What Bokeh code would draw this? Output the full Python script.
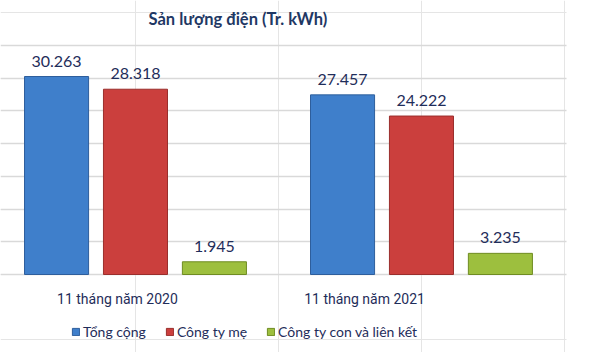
from bokeh.plotting import figure
from bokeh.models import (ColumnDataSource, FixedTicker, LabelSet, Legend, LegendItem,
                          Grid, Label, BoxAnnotation)
from bokeh.core.properties import value
from bokeh.embed import file_html
from bokeh.resources import INLINE

# ---- data ----
periods = ["11 tháng năm 2020", "11 tháng năm 2021"]
series = ["Tổng cộng", "Công ty mẹ", "Công ty con và liên kết"]
tong_cong = [30.263, 27.457]
cong_ty_me = [28.318, 24.222]
cong_ty_con = [1.945, 3.235]
values = [tong_cong, cong_ty_me, cong_ty_con]
grid_ticks = [0, 5, 10, 15, 20, 25, 30, 35]

# ---- style ----
colors = ["#3F7FCB", "#CB3F3D", "#9DBF3E"]
edge_colors = ["#2E5E9C", "#9A2E2C", "#6F8C22"]
FONT = "Lato"
CAT_FONT = "Roboto"
TXT = "#1F2D5A"
offsets = [-0.276, 0.0, 0.276]
bar_width = 0.224
label_shift = [-0.063, -0.199]

p = figure(width=606, height=352, output_backend="svg", toolbar_location=None,
           x_range=(-0.472, 1.647), y_range=(-11.92, 41.88),
           x_axis_location=None, y_axis_location=None,
           min_border=0, min_border_left=0, min_border_right=0,
           min_border_top=0, min_border_bottom=0)
p.outline_line_color = None
p.background_fill_color = "white"
p.border_fill_color = "white"

grid = Grid(dimension=1, ticker=FixedTicker(ticks=grid_ticks),
            grid_line_color="#D9D9D9", grid_line_width=1.5)
p.add_layout(grid)
# grid stops before the right edge
p.add_layout(BoxAnnotation(left=566, left_units="screen", fill_color="white",
                           fill_alpha=1, line_color=None, level="underlay"))

legend_items = []
for i, (name, vals) in enumerate(zip(series, values)):
    xs = [k + offsets[i] for k in range(len(periods))]
    src = ColumnDataSource(dict(x=xs, top=vals, lab=[f"{v:.3f}" for v in vals]))
    r = p.vbar(x="x", top="top", bottom=0, width=bar_width, source=src,
               fill_color=colors[i], line_color=edge_colors[i], line_width=1)
    p.add_layout(LabelSet(x="x", y="top", text="lab", source=src, text_align="center",
                          text_baseline="alphabetic", y_offset=10, text_font=value(FONT),
                          text_font_size=value("16px"), text_color=value(TXT)))
    legend_items.append(LegendItem(label=name, renderers=[r]))

# category labels
cat_src = ColumnDataSource(dict(x=[k + label_shift[k] for k in range(len(periods))],
                                y=[0] * len(periods), t=periods))
p.add_layout(LabelSet(x="x", y="y", text="t", source=cat_src, text_align="center",
                      text_baseline="middle", y_offset=-24, text_font=value(CAT_FONT),
                      text_font_size=value("14px"), text_color=value(TXT)))

legend = Legend(items=legend_items, orientation="horizontal", location=(71, 12),
                glyph_width=9, glyph_height=9, label_standoff=3, spacing=19,
                label_text_font=FONT, label_text_font_size="14px", label_text_color=TXT,
                border_line_color=None, background_fill_alpha=0, padding=2, margin=0)
p.add_layout(legend)

p.add_layout(Label(x=148, y=334, x_units="screen", y_units="screen",
                   text="Sản lượng điện (Tr. kWh)", text_baseline="middle",
                   text_font=FONT, text_font_size="16.5px", text_font_style="bold",
                   text_color="#1F3864"))

open("out.html", "w").write(file_html(p, INLINE))
